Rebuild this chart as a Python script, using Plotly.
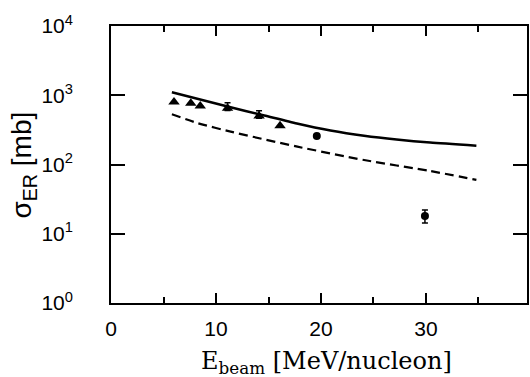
import plotly.graph_objects as go

# ---- data ----
tri_x = [6.0, 7.6, 8.5, 11.1, 14.1, 16.1]
tri_y = [800, 765, 700, 647, 501, 363]
tri_err_plus = [0, 0, 0, 133, 97, 0]
tri_err_minus = [0, 0, 0, 45, 35, 0]

circ_x = [19.6, 29.9]
circ_y = [258, 18]
circ_err_plus = [0, 4.0]
circ_err_minus = [0, 3.7]

solid_x = [5.8, 11.1, 14.6, 17.7, 20.9, 24.1, 27.2, 30.4, 34.8]
solid_y = [1104, 688, 510, 391, 310, 260, 229, 207, 187]

dash_x = [5.8, 8.3, 11.4, 17.75, 24.1, 30.4, 34.8]
dash_y = [531, 394, 298, 181, 116, 80.5, 60]

x_tickvals = [0, 10, 20, 30]
x_ticktext = ["0", "10", "20", "30"]
y_tickvals = [1, 10, 100, 1000, 10000]
y_ticktext = ["10<sup>0</sup>", "10<sup>1</sup>", "10<sup>2</sup>", "10<sup>3</sup>", "10<sup>4</sup>"]

x_title = "E<sub>beam</sub> [MeV/nucleon]"
y_title = "σ<sub>ER</sub> [mb]"

fig = go.Figure()

fig.add_trace(go.Scatter(
    x=solid_x, y=solid_y, mode="lines",
    line=dict(color="black", width=2.5, shape="spline", smoothing=0.6),
    hoverinfo="skip", showlegend=False))

fig.add_trace(go.Scatter(
    x=dash_x, y=dash_y, mode="lines",
    line=dict(color="black", width=2.2, dash="9px,5px", shape="spline", smoothing=0.6),
    hoverinfo="skip", showlegend=False))

fig.add_trace(go.Scatter(
    x=tri_x, y=tri_y, mode="markers",
    marker=dict(symbol="triangle-up", size=10, color="black"),
    error_y=dict(type="data", symmetric=False, array=tri_err_plus,
                 arrayminus=tri_err_minus, color="black", thickness=1.5, width=3),
    showlegend=False))

fig.add_trace(go.Scatter(
    x=circ_x, y=circ_y, mode="markers",
    marker=dict(symbol="circle", size=8, color="black"),
    error_y=dict(type="data", symmetric=False, array=circ_err_plus,
                 arrayminus=circ_err_minus, color="black", thickness=1.5, width=3),
    showlegend=False))

sans = "Liberation Sans, Arial, sans-serif"
serif = "DejaVu Serif, serif"

fig.update_xaxes(
    range=[0, 39.62], showgrid=False, zeroline=False,
    showline=True, linecolor="black", linewidth=1.7, mirror="ticks",
    ticks="inside", ticklen=10, tickwidth=1.5, tickcolor="black",
    tickvals=x_tickvals, ticktext=x_ticktext,
    minor=dict(ticks="inside", ticklen=6, tickwidth=1.5, tickcolor="black", dtick=5, showgrid=False),
    tickfont=dict(family=sans, size=21, color="black"),
    ticklabelstandoff=6,
)
fig.update_yaxes(
    type="log", range=[0, 4], showgrid=False, zeroline=False,
    showline=True, linecolor="black", linewidth=1.7, mirror="ticks",
    ticks="inside", ticklen=14, tickwidth=1.5, tickcolor="black",
    tickvals=y_tickvals, ticktext=y_ticktext,
    tickfont=dict(family=sans, size=21, color="black"),
    ticklabelstandoff=32,
)

fig.add_annotation(
    text=x_title, xref="paper", yref="paper", x=0.517, y=-0.215,
    xanchor="center", yanchor="middle", showarrow=False,
    font=dict(family=serif, size=24, color="black"))
fig.add_annotation(
    text=y_title, xref="paper", yref="paper", x=-0.2105, y=0.498,
    xanchor="center", yanchor="middle", showarrow=False, textangle=-90,
    font=dict(family=sans, size=28, color="black"))

fig.update_layout(
    width=530, height=377,
    margin=dict(l=111, r=1, t=26, b=74),
    paper_bgcolor="white", plot_bgcolor="white",
)

fig.write_html("out.html")
